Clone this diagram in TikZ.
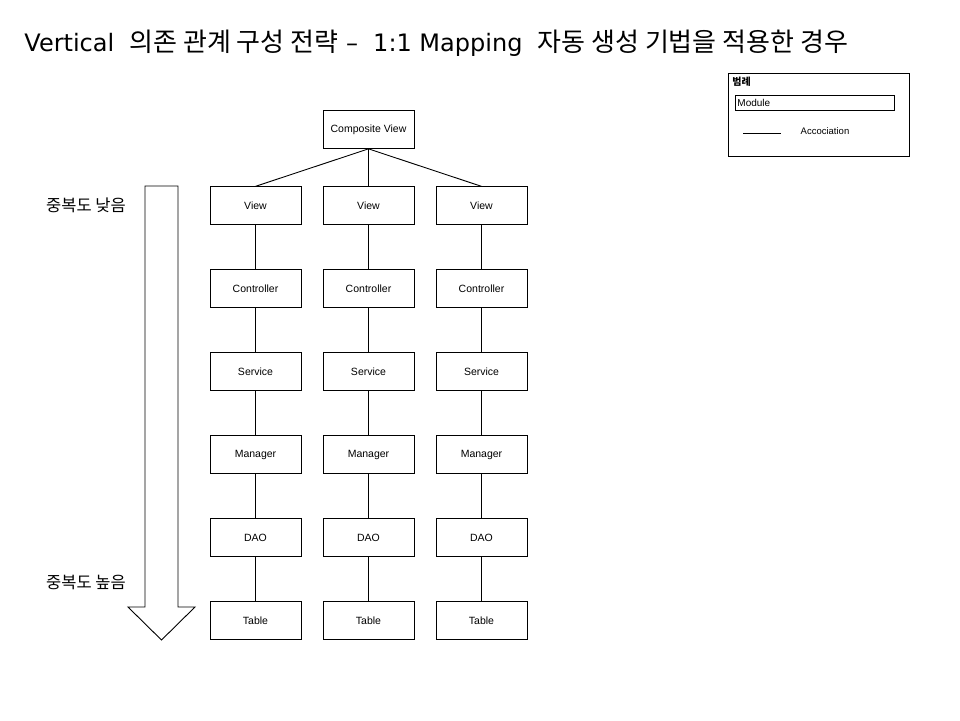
\documentclass[tikz,border=0pt]{standalone}
\usepackage{fontspec}
\setmainfont{Liberation Sans}
\newfontfamily\titlefont{DejaVu Sans}
\newfontfamily\kofont{Noto Sans CJK KR}
\usetikzlibrary{positioning}

\begin{document}
\begin{tikzpicture}[x=1pt, y=-1pt, node distance = 44.3pt and 21.1pt, line width=0.9pt]
            % Styles
            \tikzstyle{block} = [rectangle, draw, minimum width=91pt, minimum height=37.8pt,
            inner sep=0pt, font=\fontsize{10.5}{12}\selectfont]
            \tikzstyle{side} = [font=\kofont\fontsize{16.5}{19}\selectfont]

            \useasboundingbox (0,0) rectangle (960,720);

            \node [anchor=west, inner sep=0pt, font=\titlefont\fontsize{24}{28}\selectfont] (title) at (24,43)
            {Vertical\ \ {\kofont\fontsize{26}{28}\selectfont 의존 관계 구성 전략} –\ \ 1:1 Mapping\ \ {\kofont\fontsize{26}{28}\selectfont 자동 생성 기법을 적용한 경우}};

            \node [block] (comp) at (368.5,129.5) {Composite View};
            \node [block, below = 37.5pt of comp] (view2) {View};
            \node [block, left = of view2] (view1) {View};
            \node [block, right = of view2] (view3) {View};

            \node [block, below = of view1] (ctrl1) {Controller};
            \node [block, below = of view2] (ctrl2) {Controller};
            \node [block, below = of view3] (ctrl3) {Controller};
            \node [block, below = of ctrl1] (serv1) {Service};
            \node [block, below = of ctrl2] (serv2) {Service};
            \node [block, below = of ctrl3] (serv3) {Service};
            \node [block, below = of serv1] (mgr1) {Manager};
            \node [block, below = of serv2] (mgr2) {Manager};
            \node [block, below = of serv3] (mgr3) {Manager};
            \node [block, below = of mgr1] (dao1) {DAO};
            \node [block, below = of mgr2] (dao2) {DAO};
            \node [block, below = of mgr3] (dao3) {DAO};
            \node [block, below = of dao1] (table1) {Table};
            \node [block, below = of dao2] (table2) {Table};
            \node [block, below = of dao3] (table3) {Table};

            \draw (comp.south) -- (view1.north);
            \draw (comp.south) -- (view2.north);
            \draw (comp.south) -- (view3.north);
            \draw (view1) -- (ctrl1) -- (serv1) -- (mgr1) -- (dao1) -- (table1);
            \draw (view2) -- (ctrl2) -- (serv2) -- (mgr2) -- (dao2) -- (table2);
            \draw (view3) -- (ctrl3) -- (serv3) -- (mgr3) -- (dao3) -- (table3);

            % duplication arrow
            \draw (145,186) -- (178,186) -- (178,607) -- (195,607) -- (161.5,640)
                  -- (128,607) -- (145,607) -- cycle;
            \node [side] (low) at (86,205) {중복도 낮음};
            \node [side] (high) at (86,582) {중복도 높음};

            % Legend
            \node [draw, minimum width=181pt, minimum height=83pt, inner sep=0pt] (legend) at (818.5,114.5) {};
            \node [anchor=north west, inner sep=0pt, font=\kofont\bfseries\fontsize{10}{12}\selectfont] (legtitle) at (732,77) {범례};
            \node [draw, anchor=north west, minimum height=15pt, text width=155pt, inner xsep=2pt, inner ysep=0pt,
            align=left, font=\fontsize{10}{12}\selectfont] (legmod) at (735,95) {Module};
            \coordinate (legl) at (743,133);
            \coordinate (legr) at (781,133);
            \draw (legl) -- (legr);
            \node [font=\fontsize{9.5}{11}\selectfont] (legassoc) at (825,131) {Accociation};
      \end{tikzpicture}
\end{document}
